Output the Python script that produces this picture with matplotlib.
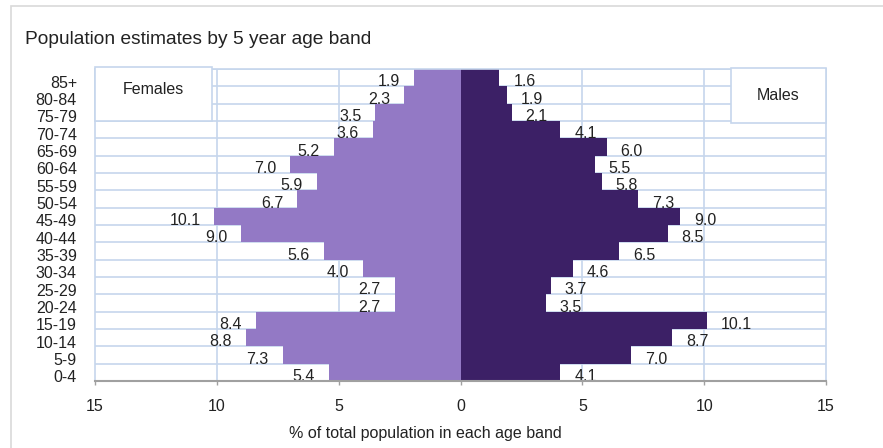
import numpy as np
import matplotlib.pyplot as plt
import matplotlib.transforms as mtransforms
from matplotlib.patches import Rectangle

plt.rcParams['font.family'] = ['Liberation Sans', 'DejaVu Sans']

ages = ['0-4', '5-9', '10-14', '15-19', '20-24', '25-29', '30-34', '35-39',
        '40-44', '45-49', '50-54', '55-59', '60-64', '65-69', '70-74',
        '75-79', '80-84', '85+']
females = [5.4, 7.3, 8.8, 8.4, 2.7, 2.7, 4.0, 5.6, 9.0, 10.1, 6.7, 5.9,
           7.0, 5.2, 3.6, 3.5, 2.3, 1.9]
males = [4.1, 7.0, 8.7, 10.1, 3.5, 3.7, 4.6, 6.5, 8.5, 9.0, 7.3, 5.8,
         5.5, 6.0, 4.1, 2.1, 1.9, 1.6]
xticks = [-15, -10, -5, 0, 5, 10, 15]

fem_col = '#9379C5'
mal_col = '#3C2066'
grid_col = '#C6D6EC'
text_col = '#222222'

fig = plt.figure(figsize=(8.83, 4.48), dpi=100)
ax = fig.add_axes([95/883, 1 - 381/448, 731/883, 312/448])

y = np.arange(len(ages))
f = np.array(females)
m = np.array(males)

# grid behind bars: row boundaries and vertical lines
for yy in np.arange(-0.5, len(ages), 1.0)[1:]:
    ax.axhline(yy, color=grid_col, lw=1.2, zorder=0)
for xx in [-10, -5, 5, 10]:
    ax.axvline(xx, color=grid_col, lw=1.2, zorder=0)

ax.barh(y, -f, height=1.0, color=fem_col, zorder=2)
ax.barh(y, m, height=1.0, color=mal_col, zorder=2)

for i in range(len(ages)):
    ax.annotate('%.1f' % f[i], (-f[i], y[i]), xytext=(-14, -4),
                textcoords='offset pixels', ha='right', va='center',
                fontsize=11.5, color=text_col, zorder=3)
    ax.annotate('%.1f' % m[i], (m[i], y[i]), xytext=(14, -4),
                textcoords='offset pixels', ha='left', va='center',
                fontsize=11.5, color=text_col, zorder=3)

# series boxes
ax.add_patch(Rectangle((-15, 14.5), 4.82, 3.1, facecolor='white',
                       edgecolor=grid_col, lw=1.2, zorder=4, clip_on=False))
ax.text(-12.6, 16.3, 'Females', ha='center', va='center', fontsize=11.5,
        color=text_col, zorder=5)
ax.add_patch(Rectangle((11.12, 14.4), 3.88, 3.15, facecolor='white',
                       edgecolor=grid_col, lw=1.2, zorder=4, clip_on=False))
ax.text(13.05, 16.0, 'Males', ha='center', va='center', fontsize=11.5,
        color=text_col, zorder=5)

ax.set_xlim(-15, 15)
ax.set_ylim(-0.5, len(ages) - 0.5)
ax.set_yticks(y)
ax.set_yticklabels(ages, fontsize=11.5, color=text_col)
ax.set_xticks(xticks)
ax.set_xticklabels([str(abs(v)) for v in xticks], fontsize=11.5, color=text_col)
ax.tick_params(axis='y', length=0, pad=13)
ax.tick_params(axis='x', length=3, width=1, color='#A0A0A0', pad=10)

# age labels sit a little low in their rows
shift = mtransforms.ScaledTranslation(0, -4/100, fig.dpi_scale_trans)
for lab in ax.get_yticklabels():
    lab.set_transform(lab.get_transform() + shift)

for side in ['left', 'top', 'right']:
    ax.spines[side].set_color(grid_col)
    ax.spines[side].set_linewidth(1.2)
ax.spines['bottom'].set_color('#A0A0A0')
ax.spines['bottom'].set_linewidth(1.5)
ax.spines['bottom'].set_zorder(6)

ax.set_xlabel('% of total population in each age band', fontsize=11.5,
              color=text_col)
ax.xaxis.set_label_coords(0.452, -0.145)

fig.text(25/883, 1 - 40/448, 'Population estimates by 5 year age band',
         fontsize=13.8, color=text_col, va='center', ha='left')

# outer chart frame
fig.patches.append(Rectangle((11/883, -0.1), 1.2, 1 - 6/448 + 0.1,
                             transform=fig.transFigure, fill=False,
                             edgecolor='#D9D9D9', lw=1.2))

fig.savefig('out.png', dpi=100)
